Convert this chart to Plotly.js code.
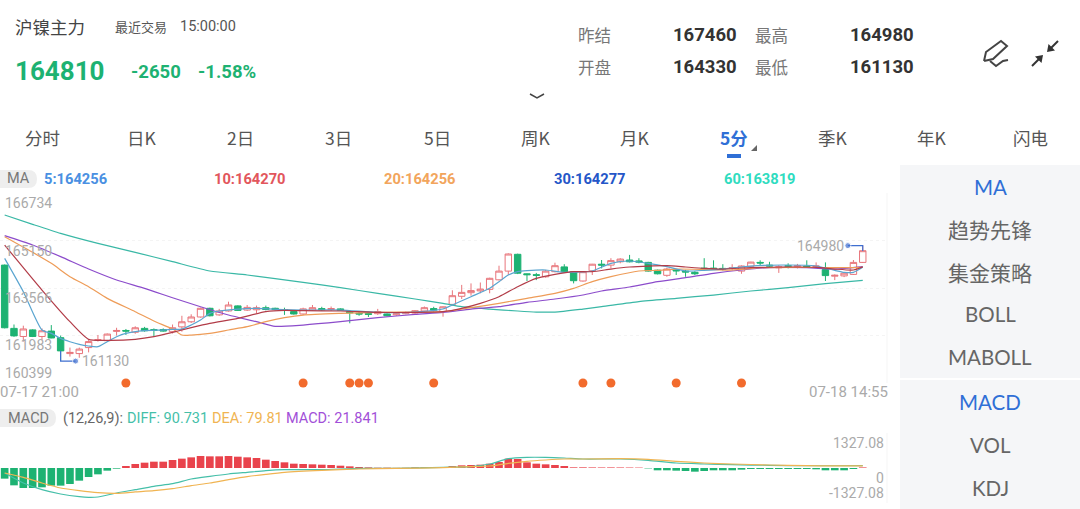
<!DOCTYPE html>
<html>
<head>
<meta charset="utf-8">
<script src="https://cdn.plot.ly/plotly-3.0.1.min.js"></script>
<style>
html, body { margin: 0; padding: 0; background: #fff; overflow: hidden; }
#plot { width: 1080px; height: 509px; }
</style>
</head>
<body>
<div id="plot"></div>
<script>
// candles, 5 minute bars 07-17 21:00 .. 07-18 14:55
const open = [164330,162220,161950,162170,161950,162130,161910,161380,161380,161580,161820,161810,162120,162150,162090,162220,162180,162180,162110,162270,162440,162600,162890,162670,162800,162970,162830,162840,162910,162890,162840,162780,162700,162830,162880,162850,162870,162780,162720,162710,162710,162700,162670,162710,162730,162800,162880,162780,163020,163290,163410,163470,163520,163840,164130,164690,164040,164010,163940,164110,164270,164110,163800,164140,164360,164330,164440,164500,164470,164420,164160,163990,164170,164130,164090,164230,164230,164220,164210,164130,164290,164420,164330,164240,164310,164290,164300,164280,164180,163960,163970,164020,164420]
const high = [164350,162350,162310,162190,162220,162330,161980,161580,161580,161830,162000,162050,162240,162200,162290,162270,162220,162220,162350,162640,162690,162910,162910,162870,163110,162990,163000,162980,162980,162910,162910,162820,162910,163000,162940,162950,162890,162820,162800,162780,162870,162720,162730,162780,162830,162950,162940,162950,163490,163670,163720,163750,163910,164310,164720,164710,164050,164070,164170,164410,164360,164130,164130,164370,164500,164560,164560,164670,164560,164440,164180,164240,164200,164170,164130,164560,164490,164360,164360,164320,164440,164490,164440,164330,164390,164370,164490,164420,164420,164020,164090,164500,164980]
const low = [162220,161940,161780,161930,161830,161890,161130,161280,161240,161420,161780,161780,161980,162000,162040,162110,161950,162110,162050,162110,162400,162580,162620,162640,162780,162800,162800,162720,162820,162820,162670,162680,162670,162800,162800,162800,162800,162390,162640,162600,162670,162620,162640,162690,162710,162780,162780,162610,162980,163200,163310,163390,163390,163820,164000,164030,163800,163830,163910,164090,164090,163720,163780,164000,164220,164220,164390,164420,164390,164110,164020,163940,164000,163940,164000,164170,164170,164150,164150,164040,164270,164330,164280,164070,164220,164220,164240,164240,163800,163830,163930,164000,164400]
const close = [162240,161970,162200,161950,162140,161900,161470,161420,161530,161780,161840,162030,162150,162130,162240,162140,162150,162130,162240,162440,162600,162890,162640,162800,163000,162820,162920,162910,162850,162850,162820,162700,162870,162910,162840,162880,162820,162740,162700,162690,162780,162640,162710,162750,162810,162910,162830,162940,163310,163420,163480,163530,163890,164130,164700,164060,164010,163990,164130,164310,164110,163810,164110,164360,164330,164480,164530,164440,164430,164130,164040,164200,164140,164100,164040,164210,164210,164200,164240,164300,164430,164400,164300,164270,164290,164310,164280,164300,163980,163990,164060,164420,164810]

// moving averages, read at the bars where the curve bends
const ma5Bars = [0,2,4,5,6,7,8,9,10,11,12,13,15,17,18,19,20,21,22,23,25,27,30,32,36,40,44,47,48,50,52,53,54,55,56,58,60,61,63,65,67,69,71,73,75,77,80,84,87,89,90,91,92]
const ma5 = [164555,163444,162165,162054,161887,161776,161687,161632,161609,161776,161943,162054,162143,162165,162187,162198,162332,162498,162721,162799,162865,162888,162843,162832,162832,162754,162765,162865,162999,163277,163555,163777,164000,164111,164144,164166,164088,164088,164133,164388,164466,164388,164277,164133,164155,164199,164299,164333,164299,164155,164088,164088,164256]
const ma10Bars = [0,4,7,9,11,14,16,18,20,22,25,28,30,32,36,40,44,47,49,51,53,55,57,59,61,63,65,67,69,71,73,75,77,80,84,87,89,91,92]
const ma10 = [164999,163499,162443,161854,161820,161854,161943,162087,162243,162387,162554,162777,162821,162810,162799,162754,162754,162777,162888,163055,163277,163610,163888,164022,164111,164111,164199,164266,164299,164311,164266,164222,164199,164244,164266,164255,164199,164166,164270]
const ma20Bars = [0,3,5,7,9,11,14,16,18,19,20,22,24,26,28,30,32,36,40,44,47,50,53,56,59,61,63,65,68,70,72,75,78,81,85,89,92]
const ma20 = [165278,164755,164388,163944,163610,163221,162777,162465,162198,161998,161998,162054,162165,162276,162443,162576,162665,162721,162754,162765,162777,162910,163055,163221,163388,163555,163777,163944,164133,164155,164199,164188,164166,164244,164255,164244,164256]
const ma30Bars = [0,3,6,9,12,15,18,21,24,27,29,32,36,40,44,47,50,53,56,59,62,64,67,70,73,76,79,82,86,89,92]
const ma30 = [165311,164999,164611,164199,163833,163555,163243,162943,162665,162443,162287,162332,162443,162576,162688,162754,162865,162943,163088,163199,163332,163466,163599,163777,163910,164055,164166,164244,164244,164199,164277]
const ma60Bars = [0,3,6,10,14,18,22,26,32,36,40,44,47,49,52,55,57,59,62,64,68,72,76,80,84,88,92]
const ma60 = [165999,165689,165389,165055,164755,164444,164133,164000,163755,163577,163388,163199,163055,162943,162865,162799,162765,162765,162865,162943,163110,163221,163332,163466,163577,163710,163819]

const signalBars = [13,32,37,38,39,46,62,65,72,79]
const priceTicks = [166734,165150,163566,161983,160399]

// MACD panel
const macdHist = [-404,-657,-758,-758,-733,-669,-669,-606,-480,-341,-240,-101,-25,76,152,202,240,240,303,354,404,455,442,442,455,429,404,379,316,265,215,164,152,139,126,114,88,63,38,25,13,13,5,8,25,25,30,30,76,101,114,126,164,227,354,341,215,164,139,114,76,25,25,22,20,22,20,18,15,-15,-88,-88,-101,-114,-139,-114,-88,-88,-88,-63,-38,-38,-38,-38,-38,-38,-38,-50,-88,-88,-88,-38,21.841]
const diffBars = [0,2,4,6,8,9,10,12,14,16,18,20,22,24,26,28,30,34,38,42,47,50,52,54,56,58,60,62,66,69,72,75,78,82,86,89,92]
const diff = [-189,-568,-821,-985,-1086,-1111,-1099,-947,-821,-695,-594,-417,-316,-227,-164,-101,-63,-63,-13,-13,25,51,152,354,404,404,379,341,341,290,189,152,126,101,88,85,90.731]
const deaBars = [0,2,4,6,8,10,12,14,16,18,20,22,24,26,28,30,34,38,42,47,50,52,54,56,58,60,62,66,69,72,75,78,82,86,89,92]
const dea = [-189,-354,-568,-758,-859,-935,-960,-909,-859,-783,-669,-568,-442,-328,-240,-164,-88,-38,-13,13,51,76,177,253,303,341,341,354,328,253,189,152,114,88,80,79.81]
const macdTicks = [1327.08,0,-1327.08]

const tabs = ["分时","日K","2日","3日","5日","周K","月K","5分","季K","年K","闪电"]
const tabCenters = [42,142,240,338,437,536,635,734,833,932,1030]
const sideTop = ["MA","趋势先锋","集金策略","BOLL","MABOLL"]
const sideBottom = ["MACD","VOL","KDJ"]

const W = 1080
const H = 509
const GREEN = "#1db272"
const RED = "#e9434c"
const CJK = "Noto Sans CJK SC"

function px(x){ return x/W }
function py(y){ return 1 - y/H }

let notes = []
// annotations pad their text by about 2px, take that back here
function label(text, x, y, size, color, anchor, font, bold){
    let a = anchor || "left"
    let nudge = a == "left" ? -2 : (a == "right" ? 2 : 0)
    notes.push({
        text: bold ? "<b>" + text + "</b>" : text,
        xref: "paper", yref: "paper", x: px(x + nudge), y: py(y - 1),
        xanchor: a, yanchor: "middle",
        showarrow: false,
        font: {size: size, color: color, family: font || CJK}
    })
}

// header
label("沪镍主力", 15, 27, 17.5, "#444")
label("最近交易", 115, 27, 13, "#555")
label("15:00:00", 180, 27, 14.5, "#555", "left", "Roboto")
label("164810", 15, 72, 26, GREEN, "left", "Roboto", true)
label("-2650", 131, 73, 18.5, GREEN, "left", "Roboto", true)
label("-1.58%", 198, 73, 18.5, GREEN, "left", "Roboto", true)
label("昨结", 578, 36, 16.5, "#777")
label("167460", 673, 36, 18.5, "#333", "left", "Roboto", true)
label("最高", 755, 36, 16.5, "#777")
label("164980", 850, 36, 18.5, "#333", "left", "Roboto", true)
label("开盘", 578, 68, 16.5, "#777")
label("164330", 673, 68, 18.5, "#333", "left", "Roboto", true)
label("最低", 755, 68, 16.5, "#777")
label("161130", 850, 68, 18.5, "#333", "left", "Roboto", true)

tabs.forEach(function (t, i){
    let active = t == "5分"
    label(t, tabCenters[i], 138, 17.5, active ? "#2f6fd6" : "#555", "center", CJK, active)
})

// MA legend row
label("MA", 18, 180, 14.5, "#777", "center", "Roboto")
label("5:164256", 44, 180, 14.7, "#4a90e2", "left", "Roboto", true)
label("10:164270", 214, 180, 14.7, "#e2565c", "left", "Roboto", true)
label("20:164256", 384, 180, 14.7, "#f2a55c", "left", "Roboto", true)
label("30:164277", 554, 180, 14.7, "#2456c8", "left", "Roboto", true)
label("60:163819", 724, 180, 14.7, "#2fdcc0", "left", "Roboto", true)

label("07-17 21:00", 0, 393, 15, "#aaa", "left", "Roboto")
label("07-18 14:55", 888, 393, 15, "#aaa", "right", "Roboto")

// MACD legend row
label("MACD", 28, 419, 14.5, "#777", "center", "Roboto")
label("(12,26,9):", 63, 419, 14.5, "#666", "left", "Roboto")
label("DIFF: 90.731", 127, 419, 14.5, "#45bfa9", "left", "Roboto")
label("DEA: 79.81", 212, 419, 14.5, "#f0b452", "left", "Roboto")
label("MACD: 21.841", 286, 419, 14.5, "#a24fd8", "left", "Roboto")

// sidebar
sideTop.forEach(function (t, i){
    let cn = i == 1 || i == 2
    label(t, 990, [188,230,273,315,358][i], cn ? 21 : 20.5, i == 0 ? "#2f6fd6" : "#666", "center", cn ? CJK : "Lato")
})
sideBottom.forEach(function (t, i){
    label(t, 990, [403,446,489][i], 20.5, i == 0 ? "#2f6fd6" : "#666", "center", "Lato")
})

// axis values sit just inside the plot
priceTicks.forEach(function (v, i){
    notes.push({
        text: String(v), xref: "paper", yref: "y", x: px(3), y: v,
        xanchor: "left", yanchor: i == 4 ? "bottom" : "top",
        showarrow: false, font: {size: 14, color: "#aaa", family: "Roboto"}
    })
})
macdTicks.forEach(function (v, i){
    notes.push({
        text: v == 0 ? "0" : (v < 0 ? "-" : "") + Math.abs(v).toFixed(2),
        xref: "paper", yref: "y2", x: px(886), y: v,
        xanchor: "right", yanchor: i == 2 ? "bottom" : "top",
        showarrow: false, font: {size: 14, color: "#aaa", family: "Roboto"}
    })
})

// high and low tags on the candles
notes.push({text: "164980", xref: "x", yref: "y", x: 90, xshift: 2, y: 164980, xanchor: "right", yanchor: "middle", showarrow: false, font: {size: 14, color: "#aaa", family: "Roboto"}})
notes.push({text: "161130", xref: "x", yref: "y", x: 8.3, xshift: -2, y: 161130, xanchor: "left", yanchor: "middle", showarrow: false, font: {size: 14, color: "#aaa", family: "Roboto"}})

function box(x0, y0, x1, y1, fill){
    return {type: "rect", xref: "paper", yref: "paper", layer: "below", x0: px(x0), x1: px(x1), y0: py(y0), y1: py(y1), fillcolor: fill, line: {width: 0}}
}
function stroke(points, color, width){
    let d = points.map(function (p, i){
        return (i == 0 ? "M" : "L") + px(p[0]) + "," + py(p[1])
    }).join(" ")
    return {type: "path", xref: "paper", yref: "paper", path: d, line: {color: color, width: width}}
}
function solid(points, color){
    let d = points.map(function (p, i){
        return (i == 0 ? "M" : "L") + px(p[0]) + "," + py(p[1])
    }).join(" ") + " Z"
    return {type: "path", xref: "paper", yref: "paper", path: d, fillcolor: color, line: {width: 0}}
}
// rounded on the right, the left end runs off the page
function pill(x1, y0, y1){
    let r = (y1 - y0)/2
    let d = "M" + px(0) + "," + py(y0) + " L" + px(x1 - r) + "," + py(y0)
        + " Q" + px(x1) + "," + py(y0) + " " + px(x1) + "," + py(y0 + r)
        + " Q" + px(x1) + "," + py(y1) + " " + px(x1 - r) + "," + py(y1)
        + " L" + px(0) + "," + py(y1) + " Z"
    return {type: "path", xref: "paper", yref: "paper", layer: "below", path: d, fillcolor: "#eeeeee", line: {width: 0}}
}

const shapes = [
    box(900, 165, 1080, 378, "#f5f6f8"),
    box(900, 380, 1080, 509, "#f5f6f8"),
    pill(37, 170, 188),
    pill(56, 409, 427),
    // plot edges
    stroke([[887,193],[887,383]], "#f5f5f5", 1),
    stroke([[887,433],[887,503]], "#f5f5f5", 1),
    // fold caret, active tab mark and tab triangle
    stroke([[530,94],[537,98],[544,94]], "#444", 1.5),
    stroke([[727,156],[741,156]], "#2f6fd6", 4),
    solid([[751,151],[757,151],[757,145]], "#666"),
    // pen icon
    stroke([[984,61],[986,52],[1001,41],[1007,46],[993,59],[984,61]], "#444", 2),
    stroke([[990,61],[996,66],[1003,61],[1008,60]], "#444", 2),
    // collapse icon
    stroke([[1032,66],[1040,58]], "#333", 2),
    solid([[1043,55],[1035,56.5],[1041.5,63]], "#333"),
    stroke([[1058,41],[1050,49]], "#333", 2),
    solid([[1047,52],[1055,50.5],[1048.5,44]], "#333")
]

function maLine(x, y, color){
    return {
        type: "scatter", mode: "lines", x: x, y: y,
        line: {color: color, width: 1.2, shape: "spline", smoothing: 0.6},
        hoverinfo: "skip"
    }
}

const bars = open.map(function (_, i){ return i })

const data = [
    {
        type: "candlestick", x: bars, open: open, high: high, low: low, close: close,
        increasing: {line: {color: "#e8757b", width: 1}, fillcolor: "#ffffff"},
        decreasing: {line: {color: GREEN, width: 1}, fillcolor: GREEN},
        whiskerwidth: 0,
        hoverinfo: "skip"
    },
    maLine(ma60Bars, ma60, "#3ab8a6"),
    maLine(ma30Bars, ma30, "#8c4ccb"),
    maLine(ma20Bars, ma20, "#ee9c58"),
    maLine(ma5Bars, ma5, "#5aa5d0"),
    maLine(ma10Bars, ma10, "#b23c48"),
    {
        type: "scatter", mode: "markers", x: signalBars, y: signalBars.map(function (){ return priceTicks[4] }),
        marker: {color: "#f26b2d", size: 9}, cliponaxis: false, hoverinfo: "skip"
    },
    {
        type: "scatter", mode: "lines+markers", x: [92,92,90.4], y: [164800,164980,164980],
        line: {color: "#3f6fd0", width: 1.2},
        marker: {color: "#3f6fd0", size: [0,0,6]}, hoverinfo: "skip"
    },
    {
        type: "scatter", mode: "lines+markers", x: [6,6,7.6], y: [161470,161130,161130],
        line: {color: "#3f6fd0", width: 1.2},
        marker: {color: "#3f6fd0", size: [0,0,6]}, hoverinfo: "skip"
    },
    {
        type: "bar", x: bars, y: macdHist, xaxis: "x2", yaxis: "y2", width: 0.82,
        marker: {color: macdHist.map(function (v){ return v < 0 ? GREEN : RED }), line: {width: 0}},
        hoverinfo: "skip"
    },
    {
        type: "scatter", mode: "lines", x: diffBars, y: diff, xaxis: "x2", yaxis: "y2",
        line: {color: "#45bfa9", width: 1.2, shape: "spline", smoothing: 0.6}, hoverinfo: "skip"
    },
    {
        type: "scatter", mode: "lines", x: deaBars, y: dea, xaxis: "x2", yaxis: "y2",
        line: {color: "#f0b452", width: 1.2, shape: "spline", smoothing: 0.6}, hoverinfo: "skip"
    }
]

const layout = {
    width: W, height: H,
    margin: {l: 0, r: 0, t: 0, b: 0},
    paper_bgcolor: "#fff", plot_bgcolor: "#fff",
    showlegend: false,
    hovermode: false,
    boxgap: 0.17,
    boxgroupgap: 0.17,
    xaxis: {
        domain: [0, 887/W], range: [-0.5, 94.6], type: "linear",
        showgrid: false, zeroline: false, showticklabels: false, ticks: "",
        rangeslider: {visible: false}, anchor: "y", fixedrange: true
    },
    yaxis: {
        domain: [py(383), py(193)], range: [priceTicks[4], priceTicks[0]],
        tickvals: priceTicks, showticklabels: false, ticks: "",
        showgrid: true, gridcolor: "#f4f4f4", griddash: "dot", zeroline: false, anchor: "x", fixedrange: true
    },
    xaxis2: {
        domain: [0, 887/W], range: [-0.5, 94.6], type: "linear",
        showgrid: false, zeroline: false, showticklabels: false, ticks: "", anchor: "y2", fixedrange: true
    },
    yaxis2: {
        domain: [py(503), py(433)], range: [macdTicks[2], macdTicks[0]],
        tickvals: [macdTicks[0], macdTicks[2]], showticklabels: false, ticks: "",
        showgrid: true, gridcolor: "#f4f4f4", zeroline: false, anchor: "x2", fixedrange: true
    },
    shapes: shapes,
    annotations: notes
}

Plotly.newPlot("plot", data, layout, {displayModeBar: false, staticPlot: true})
</script>
</body>
</html>
